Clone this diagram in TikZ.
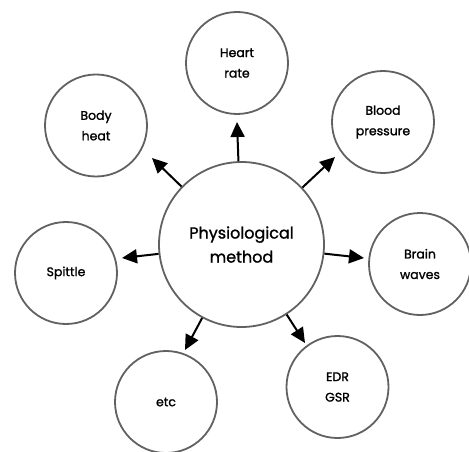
\documentclass[tikz,border=0pt]{standalone}
\usepackage{fontspec}
\setmainfont{Poppins}[FakeBold=1.3]
\usetikzlibrary{arrows.meta}
\begin{document}
\begin{tikzpicture}[x=1pt,y=-1pt,
  ring/.style={circle, draw=black!62, line width=1.8pt, minimum size=102pt, inner sep=0pt, align=center, font=\fontsize{12.5}{20.5}\selectfont},
  hub/.style={ring, minimum size=165pt, font=\fontsize{16}{24}\selectfont},
  arr/.style={-{Triangle[length=15pt,width=14pt]}, line width=2pt, black}]
\useasboundingbox (0,0) rectangle (469,452);
\node[hub] (c) at (241.5,244.5) {Physiological\\method};
\node[ring] (heart) at (237,63) {Heart\\rate};
\node[ring] (body) at (96,125.5) {Body\\heat};
\node[ring] (blood) at (383,122) {Blood\\pressure};
\node[ring] (spit) at (66,273) {Spittle};
\node[ring] (brain) at (420,264) {Brain\\waves};
\node[ring] (etc) at (166,402) {etc};
\node[ring] (edr) at (337.5,387) {EDR\\GSR};
\coordinate (tHeart) at (237,122);
\coordinate (tBody) at (152,158);
\coordinate (tBlood) at (335,157);
\coordinate (tSpit) at (122,258);
\coordinate (tBrain) at (364,258);
\coordinate (tEtc) at (185,350);
\coordinate (tEdr) at (305,343);
\draw[arr] (c) -- (tHeart);
\draw[arr] (c) -- (tBody);
\draw[arr] (c) -- (tBlood);
\draw[arr] (c) -- (tSpit);
\draw[arr] (c) -- (tBrain);
\draw[arr] (c) -- (tEtc);
\draw[arr] (c) -- (tEdr);
\end{tikzpicture}
\end{document}
